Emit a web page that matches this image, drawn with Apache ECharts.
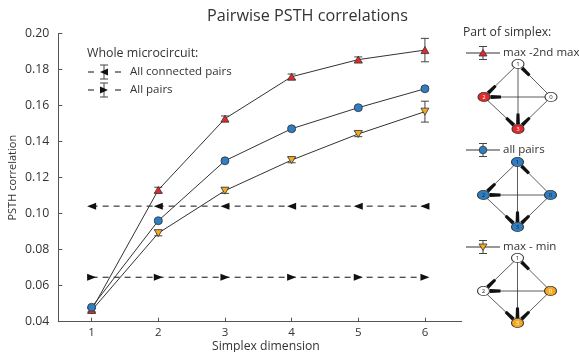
<!DOCTYPE html>
<html>
<head>
<meta charset="utf-8">
<script src="https://cdn.jsdelivr.net/npm/echarts@6/dist/echarts.min.js"></script>
<style>
  html, body { margin: 0; padding: 0; background: #fff; }
  #chart { width: 579px; height: 352px; }
</style>
</head>
<body>
<div id="chart"></div>
<script>
// Simplex dimensions on the x axis
const dims = [1, 2, 3, 4, 5, 6];
const xTicks = [1, 2, 3, 4, 5, 6];

// Mean pairwise PSTH correlation by part of simplex, with error half-widths
const maxSecondMax = [0.0465, 0.1132, 0.1528, 0.1761, 0.1856, 0.1909];
const maxSecondMaxErr = [0.0010, 0.0015, 0.0015, 0.0015, 0.0015, 0.0065];
const simplexAllPairs = [0.0480, 0.0961, 0.1294, 0.1472, 0.1589, 0.1694];
const simplexAllPairsErr = [0.0006, 0.0008, 0.0008, 0.0008, 0.0008, 0.0010];
const maxMin = [0.0462, 0.0892, 0.1128, 0.1298, 0.1443, 0.1567];
const maxMinErr = [0.0010, 0.0015, 0.0015, 0.0015, 0.0015, 0.0058];

// Whole-microcircuit reference levels
const connectedPairs = [0.1042, 0.1042, 0.1042, 0.1042, 0.1042, 0.1042];
const wholeAllPairs = [0.0647, 0.0647, 0.0647, 0.0647, 0.0647, 0.0647];

// Labels
const titleText = 'Pairwise PSTH correlations';
const xName = 'Simplex dimension';
const yName = 'PSTH correlation';
const leftLegendTitle = 'Whole microcircuit:';
const leftLegendItems = ['All connected pairs', 'All pairs'];
const rightLegendTitle = 'Part of simplex:';
const rightLegendItems = ['max -2nd max', 'all pairs', 'max - min'];

const RED = '#e5282c';
const BLUE = '#2f7ec2';
const ORANGE = '#f6a91f';
const INK = '#333';
const FONT = '"Open Sans", "Noto Sans", sans-serif';

const pairs = (ys) => dims.map((d, i) => [d, ys[i]]);
const triples = (ys, es) => dims.map((d, i) => [d, ys[i], es[i]]);

function errorBarSeries(ys, es) {
  return {
    type: 'custom',
    z: 3,
    silent: true,
    data: triples(ys, es),
    renderItem: function (params, api) {
      const x = api.value(0), y = api.value(1), e = api.value(2);
      const top = api.coord([x, y + e]);
      const bot = api.coord([x, y - e]);
      const cap = 4;
      const st = { stroke: '#444', lineWidth: 1 };
      return {
        type: 'group',
        children: [
          { type: 'line', shape: { x1: top[0], y1: top[1], x2: bot[0], y2: bot[1] }, style: st },
          { type: 'line', shape: { x1: top[0] - cap, y1: top[1], x2: top[0] + cap, y2: top[1] }, style: st },
          { type: 'line', shape: { x1: bot[0] - cap, y1: bot[1], x2: bot[0] + cap, y2: bot[1] }, style: st }
        ]
      };
    }
  };
}

function lineSeries(name, ys, color, symbol, rotate, size) {
  return {
    name: name,
    type: 'line',
    z: 5,
    data: pairs(ys),
    symbol: symbol,
    symbolRotate: rotate,
    symbolSize: size,
    showAllSymbol: true,
    lineStyle: { color: INK, width: 1 },
    itemStyle: { color: color, borderColor: INK, borderWidth: 0.8 },
    emphasis: { disabled: true },
    animation: false
  };
}

function dashedSeries(name, ys, rotate) {
  return {
    name: name,
    type: 'line',
    z: 2,
    data: pairs(ys),
    symbol: 'triangle',
    symbolRotate: rotate,
    symbolSize: [7, 9],
    lineStyle: { color: '#111', width: 1, type: [6, 5] },
    itemStyle: { color: '#111', borderWidth: 0 },
    emphasis: { disabled: true },
    animation: false
  };
}

// ---------- legend and simplex diagrams (decoration) ----------
const graphics = [];
function txt(x, y, s, size, align) {
  graphics.push({
    type: 'text', x: x, y: y,
    style: { text: s, fill: INK, font: size + 'px ' + FONT, textAlign: align || 'left', textVerticalAlign: 'middle' }
  });
}
function seg(x1, y1, x2, y2, w, c) {
  graphics.push({ type: 'line', shape: { x1, y1, x2, y2 }, style: { stroke: c || INK, lineWidth: w || 1 } });
}
function errGlyph(x, y, h, cap) {
  seg(x, y - h, x, y + h, 1, '#444');
  seg(x - cap, y - h, x + cap, y - h, 1, '#444');
  seg(x - cap, y + h, x + cap, y + h, 1, '#444');
}

// Left legend: whole microcircuit
txt(87, 53, leftLegendTitle, 12.4);
[[72, 'left'], [90, 'right']].forEach(function (it, k) {
  const y = it[0];
  seg(88, y, 94, y, 1, '#111');
  seg(115, y, 121, y, 1, '#111');
  errGlyph(104, y, 7, 4);
  const pts = it[1] === 'left'
    ? [[100, y], [108, y - 3.5], [108, y + 3.5]]
    : [[108, y], [100, y - 3.5], [100, y + 3.5]];
  graphics.push({ type: 'polygon', shape: { points: pts }, style: { fill: '#111' } });
  txt(130, y, leftLegendItems[k], 11.5);
});

// Right legend: part of simplex
txt(463, 33, rightLegendTitle, 12.2);
function markerGlyph(x, y, kind, color) {
  if (kind === 'circle') {
    graphics.push({ type: 'circle', shape: { cx: x, cy: y, r: 3.8 }, style: { fill: color, stroke: INK, lineWidth: 0.8 } });
  } else {
    const s = kind === 'up' ? 1 : -1;
    graphics.push({
      type: 'polygon',
      shape: { points: [[x, y - 3.5 * s], [x - 4, y + 3 * s], [x + 4, y + 3 * s]] },
      style: { fill: color, stroke: INK, lineWidth: 0.8 }
    });
  }
}
function legendEntry(y, label, kind, color) {
  seg(466, y, 500, y, 1, INK);
  errGlyph(483, y, 6.5, 4);
  markerGlyph(483, y, kind, color);
  txt(503, y, label, 11.5);
}

// Simplex diagram: nodes 0..3, source 0 -> sink 3
const nodeOffsets = { 1: [0, 0], 2: [-34, 33], 0: [33, 33], 3: [0, 65] };
const edges = [[0, 1], [0, 2], [0, 3], [1, 2], [1, 3], [2, 3]];
function diagram(ox, oy, fills, textFills) {
  const P = {};
  Object.keys(nodeOffsets).forEach(function (k) {
    P[k] = [ox + nodeOffsets[k][0], oy + nodeOffsets[k][1]];
  });
  const rx = 6, ry = 4.6;
  edges.forEach(function (e) {
    const a = P[e[0]], b = P[e[1]];
    seg(a[0], a[1], b[0], b[1], 0.8, '#333');
  });
  edges.forEach(function (e) {
    const a = P[e[0]], b = P[e[1]];
    const dx = b[0] - a[0], dy = b[1] - a[1];
    const L = Math.hypot(dx, dy);
    const ux = dx / L, uy = dy / L;
    const d = 1 / Math.sqrt((ux / rx) * (ux / rx) + (uy / ry) * (uy / ry));
    const nx = -uy, ny = ux;
    const n0 = d + 0.5, n1 = d + 11;
    const w0 = 1.9, w1 = 1.5;
    const p = [
      [b[0] - ux * n0 + nx * w0, b[1] - uy * n0 + ny * w0],
      [b[0] - ux * n1 + nx * w1, b[1] - uy * n1 + ny * w1],
      [b[0] - ux * n1 - nx * w1, b[1] - uy * n1 - ny * w1],
      [b[0] - ux * n0 - nx * w0, b[1] - uy * n0 - ny * w0]
    ];
    graphics.push({ type: 'polygon', shape: { points: p }, style: { fill: '#111' } });
  });
  [0, 1, 2, 3].forEach(function (k) {
    const c = P[k];
    graphics.push({
      type: 'circle', x: c[0], y: c[1], scaleX: rx / ry, scaleY: 1,
      shape: { cx: 0, cy: 0, r: ry },
      style: { fill: fills[k], stroke: '#333', lineWidth: 0.8, strokeNoScale: true }
    });
    graphics.push({
      type: 'text', x: c[0], y: c[1] + 0.3,
      style: { text: String(k), fill: textFills[k], font: '6px ' + FONT, textAlign: 'center', textVerticalAlign: 'middle' }
    });
  });
}

legendEntry(53, rightLegendItems[0], 'up', RED);
diagram(518, 64, ['#fff', '#fff', RED, RED], ['#222', '#222', '#fff', '#fff']);
legendEntry(150, rightLegendItems[1], 'circle', BLUE);
diagram(517.5, 162, [BLUE, BLUE, BLUE, BLUE], ['#123', '#123', '#123', '#123']);
legendEntry(247, rightLegendItems[2], 'down', ORANGE);
diagram(517.5, 258, ['#f6a91f', '#fff', '#fff', '#f6a91f'], ['#fff', '#222', '#222', '#fff']);

const chart = echarts.init(document.getElementById('chart'), null, { renderer: 'canvas' });
chart.setOption({
  animation: false,
  backgroundColor: '#fff',
  title: {
    text: titleText,
    left: 202,
    top: 3,
    textStyle: { fontFamily: FONT, fontSize: 16.2, fontWeight: 'normal', color: INK }
  },
  grid: {
    left: 58.3, right: 117.4, top: 33.7, bottom: 30.3,
    containLabel: false,
    outerBoundsMode: 'none'
  },
  xAxis: {
    type: 'value',
    min: 0.5,
    max: 6.55,
    name: xName,
    nameLocation: 'middle',
    nameGap: 19,
    nameMoveOverlap: false,
    nameTextStyle: { fontFamily: FONT, fontSize: 12.2, color: INK, padding: [0, 0, 0, 12] },
    axisLine: { show: true, onZero: false, lineStyle: { color: '#555', width: 1 } },
    axisTick: { show: true, inside: true, length: 4, customValues: xTicks, lineStyle: { color: '#555' } },
    axisLabel: { customValues: xTicks, fontFamily: FONT, fontSize: 11.5, color: INK, margin: 5 },
    splitLine: { show: false }
  },
  yAxis: {
    type: 'value',
    min: 0.04,
    max: 0.20,
    interval: 0.02,
    name: yName,
    nameLocation: 'middle',
    nameGap: 40,
    nameMoveOverlap: false,
    nameTextStyle: { fontFamily: FONT, fontSize: 11, color: INK },
    axisLine: { show: true, onZero: false, lineStyle: { color: '#555', width: 1 } },
    axisTick: { show: true, inside: true, length: 4, lineStyle: { color: '#555' } },
    axisLabel: { fontFamily: FONT, fontSize: 12.3, color: INK, margin: 9, formatter: (v) => v.toFixed(2) },
    splitLine: { show: false }
  },
  series: [
    dashedSeries(leftLegendItems[0], connectedPairs, 90),
    dashedSeries(leftLegendItems[1], wholeAllPairs, -90),
    errorBarSeries(maxSecondMax, maxSecondMaxErr),
    errorBarSeries(simplexAllPairs, simplexAllPairsErr),
    errorBarSeries(maxMin, maxMinErr),
    lineSeries(rightLegendItems[2], maxMin, ORANGE, 'triangle', 180, [8, 7]),
    lineSeries(rightLegendItems[0], maxSecondMax, RED, 'triangle', 0, [8, 7]),
    lineSeries(rightLegendItems[1], simplexAllPairs, BLUE, 'circle', 0, 8)
  ],
  graphic: graphics
});
</script>
</body>
</html>
